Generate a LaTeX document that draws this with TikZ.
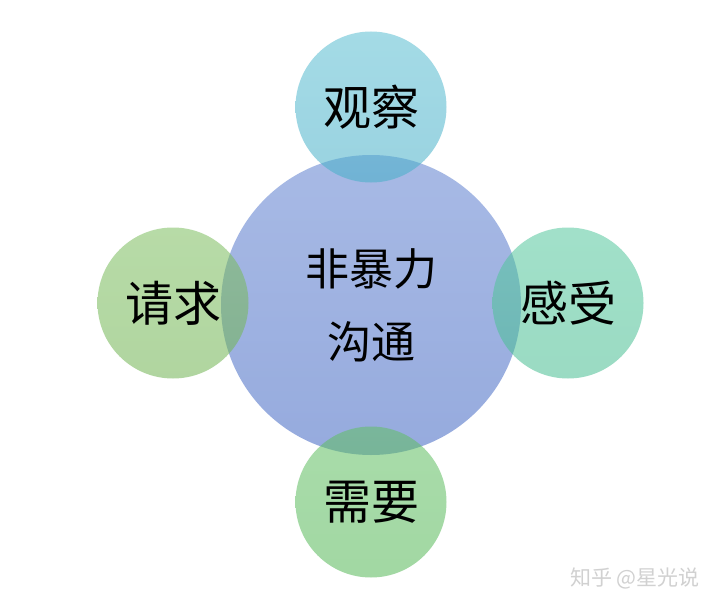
\documentclass[tikz,border=0pt]{standalone}
\usepackage{fontspec}
\newfontfamily\cjk{Noto Sans CJK SC}
\begin{document}
\begin{tikzpicture}[x=1pt,y=-1pt,
  bubble/.style={circle,draw=none,inner sep=0pt,font=\cjk\fontsize{48}{50}\selectfont,text=black,text opacity=1},
  core/.style={bubble,minimum size=300pt,fill opacity=0.6,align=center,font=\cjk\fontsize{44}{73}\selectfont},
  petal/.style={bubble,minimum size=151pt,fill opacity=0.55}]
\useasboundingbox (0,0) rectangle (720,607);
\fill[white] (0,0) rectangle (720,607);
\definecolor{coret}{RGB}{110,140,212}
\definecolor{coreb}{RGB}{80,115,200}
\definecolor{topt}{RGB}{90,190,210}
\definecolor{topb}{RGB}{70,175,200}
\definecolor{leftt}{RGB}{125,190,95}
\definecolor{leftb}{RGB}{112,180,82}
\definecolor{rightt}{RGB}{85,200,158}
\definecolor{rightb}{RGB}{72,190,146}
\definecolor{bott}{RGB}{98,192,100}
\definecolor{botb}{RGB}{86,184,88}
\node[core,top color=coret,bottom color=coreb] (c) at (371,305) {非暴力\\沟通};
\node[petal,top color=topt,bottom color=topb] (t) at (371,107) {观察};
\node[petal,top color=leftt,bottom color=leftb] (l) at (173,303) {请求};
\node[petal,top color=rightt,bottom color=rightb] (r) at (568,303) {感受};
\node[petal,top color=bott,bottom color=botb] (b) at (371,502) {需要};
\node[font=\cjk\fontsize{21}{22}\selectfont,text=black!18] (w) at (635,578) {知乎 @星光说};
\end{tikzpicture}
\end{document}
